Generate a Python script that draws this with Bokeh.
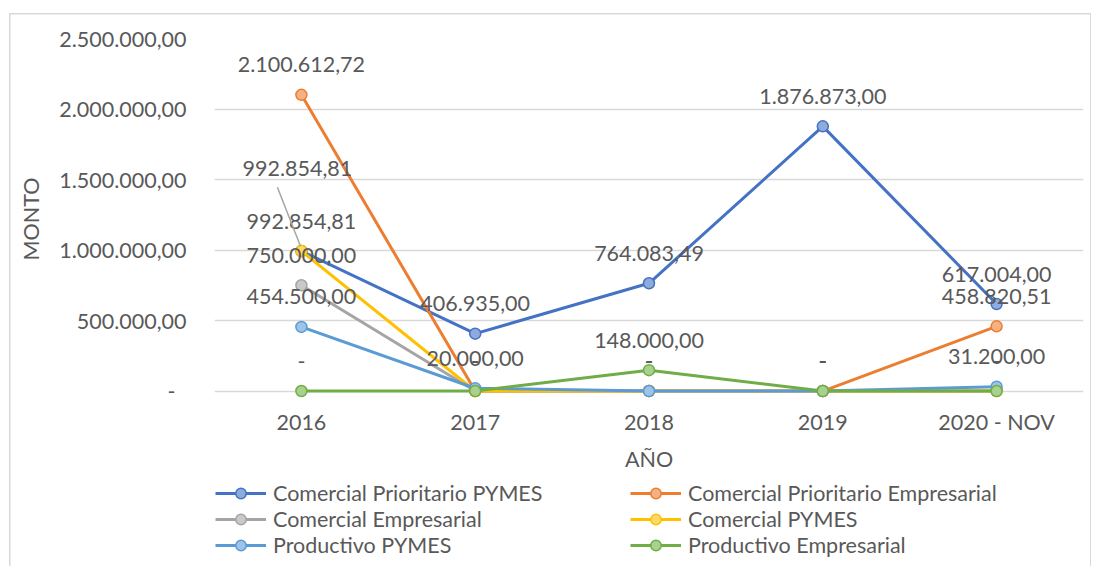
from bokeh.plotting import figure
from bokeh.layouts import column
from bokeh.models import (FactorRange, Range1d, FixedTicker, ColumnDataSource,
                          Legend, LegendItem)
from bokeh.core.properties import value
from bokeh.embed import file_html
from bokeh.resources import INLINE

# ---------------- data ----------------
years = ["2016", "2017", "2018", "2019", "2020 - NOV"]
comercial_prioritario_pymes = [992854.81, 406935.00, 764083.49, 1876873.00, 617004.00]
comercial_prioritario_empresarial = [2100612.72, 0, 0, 0, 458820.51]
comercial_empresarial = [750000.00, 0, 0, 0, 0]
comercial_pymes = [992854.81, 0, 0, 0, 0]
productivo_pymes = [454500.00, 20000.00, 0, 0, 31200.00]
productivo_empresarial = [0, 0, 148000.00, 0, 0]

series_names = ["Comercial Prioritario PYMES", "Comercial Prioritario Empresarial",
                "Comercial Empresarial", "Comercial PYMES",
                "Productivo PYMES", "Productivo Empresarial"]
series_values = [comercial_prioritario_pymes, comercial_prioritario_empresarial,
                 comercial_empresarial, comercial_pymes,
                 productivo_pymes, productivo_empresarial]

y_ticks = [0, 500000, 1000000, 1500000, 2000000, 2500000]
y_tick_labels = ["-\u00a0\u00a0", "500.000,00", "1.000.000,00", "1.500.000,00",
                 "2.000.000,00", "2.500.000,00"]

# ---------------- style ----------------
line_colors = ["#4472C4", "#ED7D31", "#A5A5A5", "#FFC000", "#5B9BD5", "#70AD47"]
marker_fills = ["#8FAADC", "#F4B183", "#C9C9C9", "#FFD966", "#9DC3E6", "#A9D18E"]
FONT = "Lato"
FS = "21.5px"
TXT = "#595959"
GRID = "#D9D9D9"

W, H, H2 = 1091, 474, 92
ML, MR, MT = 214, 8, 38
FRAME_H = 362
MB = H - MT - FRAME_H
Y0, Y1 = -60000, 2500000
px_per_y = FRAME_H / (Y1 - Y0)
px_per_x = (W - ML - MR) / len(years)


def fmt(v):
    if v == 0:
        return "-"
    s = f"{v:,.2f}"
    return s.replace(",", "X").replace(".", ",").replace("X", ".")


g = "linear-gradient(#D9D9D9,#D9D9D9)"

p = figure(width=W, height=H, x_range=FactorRange(factors=years),
           y_range=Range1d(Y0, Y1), output_backend="svg", toolbar_location=None,
           min_border_left=ML, min_border_right=MR, min_border_top=MT,
           min_border_bottom=MB)
p.outline_line_color = None
p.background_fill_color = "white"
p.border_fill_alpha = 0
p.styles = {
    "background-color": "white",
    "background-image": f"{g}, {g}, {g}",
    "background-size": "1.5px 100%, 1082px 1.5px, 1.5px 100%",
    "background-position": "9px 13px, 9px 13px, 1090px 13px",
    "background-repeat": "no-repeat",
}

# axes
p.yaxis.ticker = FixedTicker(ticks=y_ticks)
p.yaxis.major_label_overrides = {t: l for t, l in zip(y_ticks, y_tick_labels)}
for ax in (p.xaxis[0], p.yaxis[0]):
    ax.axis_line_color = None
    ax.major_tick_line_color = None
    ax.minor_tick_line_color = None
    ax.major_label_text_font = FONT
    ax.major_label_text_font_size = FS
    ax.major_label_text_color = TXT
    ax.axis_label_text_font = FONT
    ax.axis_label_text_font_size = FS
    ax.axis_label_text_color = TXT
    ax.axis_label_text_font_style = "normal"
p.yaxis.major_label_standoff = 22
p.xaxis.major_label_standoff = 3
p.yaxis.axis_label = "MONTO"
p.xaxis.axis_label = "AÑO"
p.yaxis.axis_label_standoff = 12
p.xaxis.axis_label_standoff = 8

p.xgrid.grid_line_color = None
p.ygrid.ticker = FixedTicker(ticks=y_ticks)
p.ygrid.grid_line_color = GRID
p.ygrid.grid_line_width = 1.5

# legend figure (separate panel under the chart)
p2 = figure(width=W, height=H2, x_range=Range1d(0, 1), y_range=Range1d(0, 1),
            output_backend="svg", toolbar_location=None, min_border=0)
p2.axis.visible = False
p2.grid.visible = False
p2.outline_line_color = None
p2.border_fill_alpha = 0
p2.background_fill_alpha = 0
p2.styles = {
    "background-color": "white",
    "background-image": f"{g}, {g}",
    "background-size": "1.5px 100%, 1.5px 100%",
    "background-position": "9px 0px, 1090px 0px",
    "background-repeat": "no-repeat",
}

# series
nan = float("nan")
items = []
for name, vals, lc, mf in zip(series_names, series_values, line_colors, marker_fills):
    src = ColumnDataSource(dict(x=years, y=vals))
    p.line("x", "y", source=src, line_color=lc, line_width=3)
    p.scatter("x", "y", source=src, size=11, fill_color=mf, line_color=lc,
              line_width=1.5)
    # legend-only proxies (not drawn: NaN coordinates)
    proxy = ColumnDataSource(dict(x=[nan], y=[nan]))
    lr = p2.line("x", "y", source=proxy, line_color=lc, line_width=3)
    sr = p2.scatter("x", "y", source=proxy, size=11, fill_color=mf, line_color=lc,
                    line_width=1.5)
    items.append(LegendItem(label=name, renderers=[lr, sr]))

# data labels
lx, ly, lt, xo, yo = [], [], [], [], []
for si, vals in enumerate(series_values):
    for yi, v in enumerate(vals):
        lx.append(years[yi]); ly.append(v); lt.append(fmt(v))
        if si == 0 and yi == 0:
            xo.append(-4); yo.append(-83)
        else:
            xo.append(0); yo.append(-30)
p.text(x="x", y="y", text="t", x_offset="xo", y_offset="yo",
       source=ColumnDataSource(dict(x=lx, y=ly, t=lt, xo=xo, yo=yo)),
       text_font=value(FONT), text_font_size=FS, text_color=TXT,
       text_align="center", text_baseline="middle")

# leader line for the moved label
v0 = comercial_prioritario_pymes[0]
p.segment(x0=[0.5 - 24 / px_per_x], y0=[v0 + 64 / px_per_y],
          x1=[0.5 - 1 / px_per_x], y1=[v0 + 5 / px_per_y],
          line_color="#A5A5A5", line_width=1.5)

lg = Legend(items=items, orientation="horizontal", ncols=2, location=(1, 8))
lg.border_line_color = None
lg.background_fill_alpha = 0
lg.padding = 0
lg.margin = 0
lg.spacing = 0
lg.glyph_width = 51
lg.glyph_height = 26
lg.label_height = 26
lg.label_width = 357
lg.label_standoff = 7
lg.label_text_font = FONT
lg.label_text_font_size = FS
lg.label_text_color = TXT
p2.add_layout(lg)

open("out.html", "w").write(file_html(column(p, p2, spacing=0), INLINE))
